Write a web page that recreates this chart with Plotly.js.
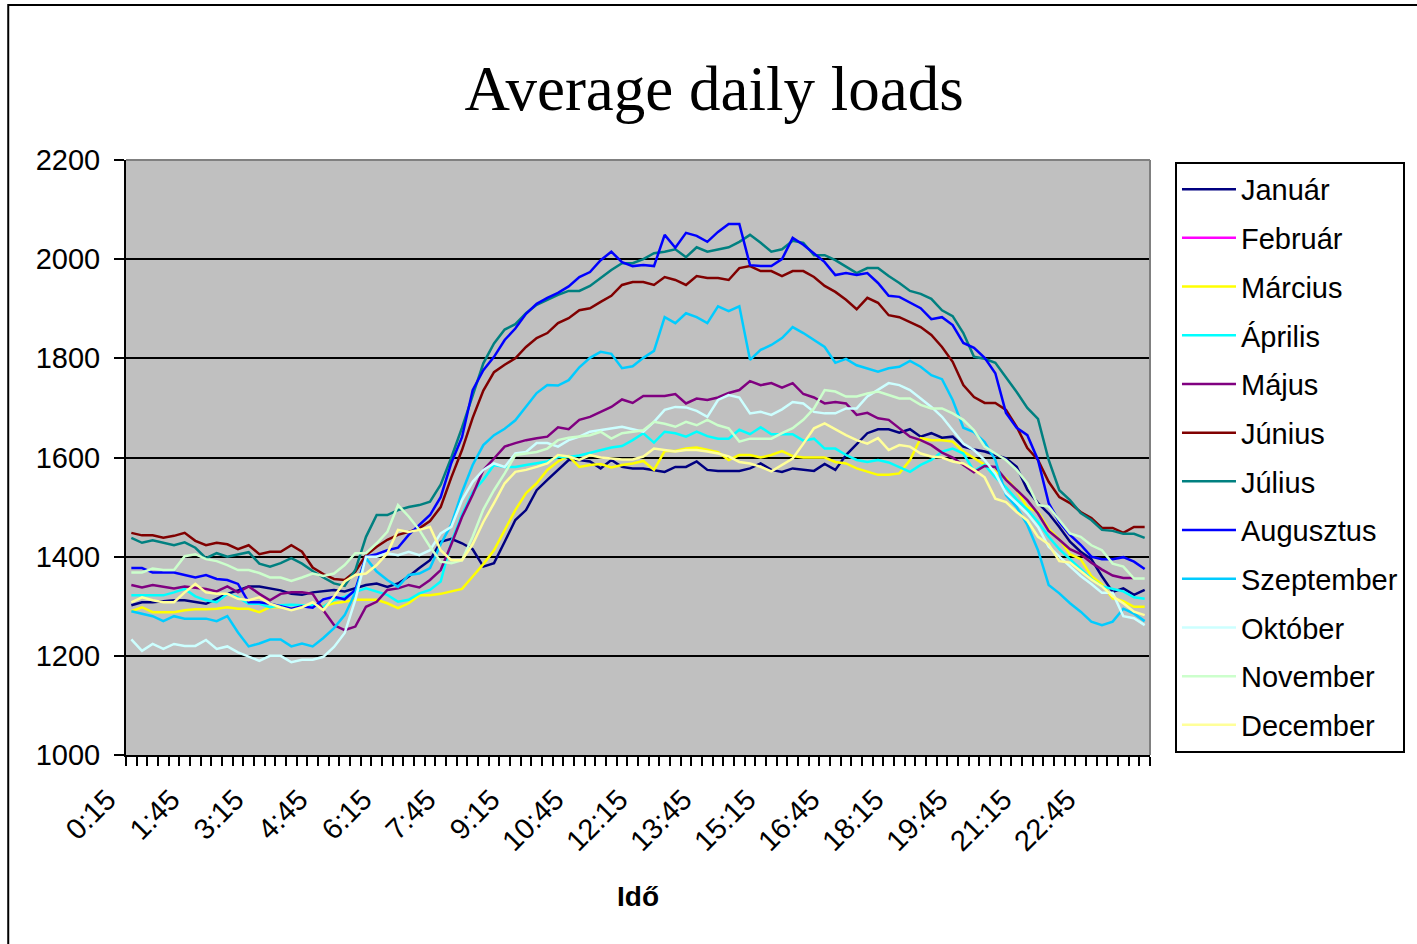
<!DOCTYPE html>
<html>
<head>
<meta charset="utf-8">
<script src="https://cdn.plot.ly/plotly-3.0.1.min.js"></script>
<style>
  html, body { margin: 0; padding: 0; background: #fff; }
  #chart { width: 1417px; height: 944px; }
</style>
</head>
<body>
<div id="chart"></div>
<script>
// 15 minute steps, 0:15 ... 24:00
const times = [];
for (let m = 15; m <= 24 * 60; m += 15) {
    const mm = m % 60;
    times.push(Math.floor(m / 60) + ":" + (mm < 10 ? "0" + mm : mm));
}

const tickLabels = ["0:15", "1:45", "3:15", "4:45", "6:15", "7:45", "9:15", "10:45",
    "12:15", "13:45", "15:15", "16:45", "18:15", "19:45", "21:15", "22:45"];

const months = ["Január", "Február", "Március", "Április", "Május", "Június",
    "Július", "Augusztus", "Szeptember", "Október", "November", "December"];

const colors = ["#000080", "#ff00ff", "#ffff00", "#00ffff", "#800080", "#800000",
    "#008080", "#0000ff", "#00ccff", "#ccffff", "#ccffcc", "#ffff99"];

const januar = [
    1302, 1308, 1308, 1310, 1312, 1312, 1308, 1305, 1315, 1325,
    1332, 1340, 1340, 1336, 1332, 1325, 1323, 1328, 1330, 1333,
    1330, 1336, 1343, 1346, 1339, 1346, 1360, 1377, 1393, 1430,
    1436, 1427, 1415, 1380, 1387, 1430, 1474, 1494, 1534, 1555,
    1575, 1595, 1595, 1592, 1578, 1595, 1581, 1578, 1578, 1575,
    1571, 1581, 1581, 1592, 1575, 1573, 1573, 1573, 1578, 1588,
    1575, 1571, 1578, 1575, 1573, 1587, 1575, 1605, 1628, 1649,
    1657, 1657, 1650, 1657, 1642, 1649, 1640, 1642, 1622, 1616,
    1612, 1605, 1598, 1581, 1535, 1508, 1487, 1460, 1430, 1410,
    1395, 1360, 1329, 1336, 1323, 1333];

// no February line is visible in the chart, only its legend entry
const februar = times.map(() => null);

const marcius = [
    1290, 1298, 1288, 1288, 1288, 1292, 1294, 1294, 1295, 1298,
    1295, 1295, 1288, 1298, 1298, 1295, 1298, 1302, 1300, 1306,
    1309, 1313, 1313, 1313, 1306, 1296, 1306, 1322, 1322, 1325,
    1330, 1335, 1360, 1385, 1413, 1454, 1494, 1528, 1548, 1575,
    1592, 1603, 1581, 1585, 1587, 1580, 1585, 1588, 1593, 1575,
    1613, 1613, 1618, 1620, 1615, 1611, 1595, 1605, 1605, 1600,
    1605, 1613, 1603, 1600, 1600, 1600, 1591, 1588, 1578, 1571,
    1565, 1565, 1568, 1595, 1639, 1635, 1635, 1632, 1612, 1599,
    1585, 1571, 1558, 1534, 1500, 1490, 1456, 1435, 1405, 1395,
    1361, 1344, 1316, 1310, 1299, 1299];

const aprilis = [
    1322, 1322, 1322, 1322, 1328, 1335, 1320, 1312, 1308, 1325,
    1318, 1305, 1305, 1298, 1302, 1303, 1302, 1302, 1299, 1313,
    1319, 1329, 1336, 1329, 1323, 1309, 1313, 1326, 1333, 1350,
    1430, 1485, 1530, 1555, 1585, 1581, 1581, 1585, 1588, 1592,
    1601, 1601, 1604, 1609, 1615, 1620, 1623, 1635, 1649, 1630,
    1652, 1649, 1642, 1652, 1643, 1638, 1638, 1656, 1647, 1661,
    1647, 1647, 1647, 1634, 1638, 1618, 1618, 1605, 1595, 1591,
    1595, 1590, 1581, 1571, 1585, 1595, 1612, 1618, 1608, 1573,
    1585, 1560, 1540, 1515, 1495, 1470, 1440, 1415, 1395, 1375,
    1355, 1340, 1335, 1330, 1318, 1315];

const majus = [
    1343, 1338, 1343, 1340, 1336, 1340, 1338, 1335, 1330, 1340,
    1328, 1340, 1325, 1312, 1325, 1328, 1328, 1325, 1292, 1262,
    1252, 1259, 1299, 1309, 1333, 1336, 1343, 1338, 1353, 1373,
    1425, 1480, 1525, 1575, 1598, 1622, 1629, 1635, 1639, 1642,
    1661, 1657, 1676, 1682, 1692, 1702, 1717, 1710, 1724, 1724,
    1724, 1728, 1709, 1719, 1716, 1721, 1730, 1736, 1754, 1746,
    1750, 1741, 1750, 1728, 1721, 1709, 1712, 1709, 1686, 1690,
    1679, 1676, 1659, 1642, 1635, 1625, 1610, 1600, 1585, 1570,
    1583, 1581, 1555, 1534, 1514, 1487, 1452, 1434, 1415, 1405,
    1388, 1374, 1362, 1357, 1357, null];

const junius = [
    1448, 1443, 1443, 1438, 1442, 1448, 1432, 1423, 1428, 1425,
    1415, 1423, 1405, 1410, 1410, 1423, 1410, 1378, 1365, 1355,
    1353, 1370, 1403, 1420, 1434, 1444, 1450, 1457, 1472, 1500,
    1560, 1615, 1680, 1735, 1772, 1787, 1800, 1823, 1841, 1851,
    1871, 1881, 1897, 1901, 1914, 1926, 1948, 1954, 1954, 1948,
    1964, 1958, 1948, 1966, 1962, 1962, 1958, 1982, 1986, 1976,
    1976, 1966, 1976, 1976, 1964, 1946, 1934, 1918, 1899, 1922,
    1912, 1887, 1883, 1873, 1863, 1847, 1823, 1793, 1746, 1722,
    1710, 1710, 1696, 1662, 1619, 1595, 1551, 1520, 1508, 1490,
    1478, 1458, 1458, 1448, 1460, 1460];

const julius = [
    1438, 1428, 1433, 1428, 1423, 1429, 1418, 1397, 1407, 1400,
    1405, 1409, 1386, 1380, 1387, 1397, 1386, 1371, 1358, 1346,
    1341, 1373, 1440, 1484, 1484, 1494, 1500, 1504, 1511, 1545,
    1600, 1660, 1725, 1790, 1830, 1858, 1869, 1891, 1908, 1918,
    1928, 1936, 1936, 1946, 1962, 1978, 1992, 1992, 2000, 2012,
    2015, 2020, 2004, 2024, 2015, 2020, 2024, 2035, 2049, 2033,
    2015, 2020, 2037, 2033, 2008, 2008, 1998, 1985, 1972, 1982,
    1982, 1966, 1952, 1936, 1930, 1920, 1897, 1885, 1851, 1803,
    1799, 1791, 1762, 1732, 1700, 1678, 1595, 1534, 1514, 1488,
    1474, 1454, 1452, 1446, 1446, 1438];

const augusztus = [
    1377, 1377, 1368, 1368, 1368, 1363, 1358, 1363, 1355, 1353,
    1345, 1308, 1308, 1305, 1300, 1295, 1300, 1297, 1314, 1319,
    1314, 1333, 1400, 1405, 1413, 1418, 1444, 1464, 1484, 1520,
    1589, 1641, 1736, 1776, 1803, 1837, 1860, 1890, 1910, 1922,
    1932, 1945, 1964, 1974, 1998, 2015, 1994, 1986, 1988, 1986,
    2049, 2023, 2053, 2047, 2035, 2055, 2071, 2071, 1988, 1986,
    1986, 2000, 2043, 2029, 2012, 1994, 1968, 1972, 1968, 1972,
    1952, 1926, 1924, 1912, 1901, 1879, 1883, 1867, 1831, 1821,
    1801, 1770, 1690, 1660, 1645, 1595, 1508, 1470, 1444, 1424,
    1400, 1395, 1395, 1399, 1390, 1375];

const szeptember = [
    1290, 1285, 1280, 1270, 1280, 1275, 1275, 1275, 1270, 1280,
    1247, 1219, 1225, 1233, 1233, 1219, 1225, 1219, 1236, 1256,
    1282, 1327, 1397, 1370, 1353, 1339, 1363, 1366, 1377, 1425,
    1465, 1530, 1585, 1625, 1645, 1658, 1675, 1702, 1730, 1746,
    1745, 1756, 1782, 1801, 1813, 1809, 1780, 1784, 1801, 1815,
    1883, 1871, 1891, 1883, 1871, 1905, 1895, 1905, 1797, 1817,
    1827, 1841, 1863, 1851, 1837, 1823, 1791, 1799, 1786, 1780,
    1773, 1780, 1783, 1795, 1783, 1766, 1758, 1716, 1660, 1651,
    1631, 1595, 1524, 1500, 1464, 1413, 1343, 1326, 1306, 1289,
    1269, 1262, 1269, 1295, 1285, 1270];

const oktober = [
    1233, 1210, 1224, 1214, 1224, 1220, 1220, 1232, 1214, 1219,
    1207, 1199, 1190, 1200, 1200, 1187, 1192, 1192, 1198, 1218,
    1246, 1313, 1400, 1400, 1407, 1403, 1410, 1403, 1413, 1447,
    1460, 1514, 1551, 1575, 1588, 1581, 1608, 1611, 1629, 1629,
    1622, 1635, 1642, 1652, 1655, 1659, 1662, 1657, 1652, 1672,
    1696, 1702, 1701, 1694, 1682, 1716, 1726, 1721, 1689, 1692,
    1686, 1697, 1712, 1709, 1692, 1689, 1689, 1699, 1699, 1723,
    1736, 1750, 1746, 1736, 1719, 1702, 1682, 1655, 1628, 1615,
    1595, 1568, 1528, 1508, 1487, 1460, 1420, 1400, 1380, 1361,
    1345, 1327, 1327, 1280, 1276, 1262];

const november = [
    1368, 1368, 1376, 1373, 1373, 1401, 1405, 1395, 1391, 1383,
    1373, 1373, 1367, 1358, 1358, 1351, 1358, 1366, 1361, 1366,
    1383, 1407, 1407, 1427, 1450, 1504, 1481, 1454, 1420, 1390,
    1387, 1393, 1440, 1495, 1534, 1568, 1605, 1608, 1611, 1618,
    1635, 1640, 1642, 1645, 1652, 1638, 1649, 1652, 1655, 1672,
    1668, 1662, 1672, 1665, 1676, 1665, 1659, 1632, 1638, 1638,
    1638, 1649, 1659, 1676, 1699, 1736, 1733, 1723, 1723, 1729,
    1733, 1726, 1719, 1719, 1706, 1699, 1699, 1689, 1676, 1655,
    1622, 1608, 1595, 1575, 1548, 1504, 1501, 1474, 1447, 1440,
    1423, 1413, 1386, 1380, 1356, 1356];

const december = [
    1308, 1318, 1312, 1308, 1308, 1328, 1345, 1328, 1325, 1325,
    1315, 1312, 1318, 1305, 1298, 1292, 1298, 1308, 1292, 1319,
    1350, 1363, 1366, 1383, 1407, 1454, 1450, 1454, 1460, 1413,
    1393, 1393, 1425, 1470, 1508, 1548, 1571, 1575, 1581, 1588,
    1605, 1602, 1595, 1605, 1600, 1598, 1596, 1596, 1602, 1618,
    1615, 1612, 1615, 1615, 1612, 1608, 1602, 1591, 1588, 1581,
    1572, 1585, 1598, 1628, 1659, 1669, 1657, 1645, 1635, 1628,
    1639, 1615, 1625, 1622, 1608, 1602, 1600, 1592, 1588, 1575,
    1560, 1517, 1510, 1490, 1473, 1440, 1425, 1391, 1388, 1371,
    1354, 1340, 1320, 1306, 1289, 1282];

const loads = [januar, februar, marcius, aprilis, majus, junius,
    julius, augusztus, szeptember, oktober, november, december];

const sans = "Liberation Sans, Arial, sans-serif";

const traces = months.map((name, k) => ({
    x: times,
    y: loads[k],
    type: "scatter",
    mode: "lines",
    name: name,
    legendgroup: name,
    line: { color: colors[k], width: 2.5 }
}));

const layout = {
    width: 1417,
    height: 944,
    paper_bgcolor: "#ffffff",
    plot_bgcolor: "#c0c0c0",
    margin: { l: 126, r: 265, t: 160, b: 189 },
    font: { family: sans, color: "#000", size: 29 },
    showlegend: true,
    title: {
        text: "Average daily loads",
        font: { family: "Liberation Serif, Times New Roman, serif", size: 63, color: "#000" },
        x: 0.504,
        xanchor: "center",
        y: 0.907,
        yanchor: "middle"
    },
    xaxis: {
        type: "category",
        range: [-0.5, 95.5],
        tickmode: "array",
        tickvals: times,
        ticktext: times.map(t => tickLabels.includes(t) ? t : ""),
        tickson: "boundaries",
        ticks: "outside",
        ticklen: 9,
        tickwidth: 2,
        tickcolor: "#000",
        tickangle: -45,
        tickfont: { size: 29 },
        ticklabelshift: -24,
        ticklabelstandoff: 14,
        showline: true,
        linecolor: "#000",
        linewidth: 2,
        showgrid: false,
        zeroline: false,
        automargin: false,
        title: { text: "<b>Idő</b>", font: { size: 28 }, standoff: 30 }
    },
    yaxis: {
        range: [1000, 2200],
        tick0: 1000,
        dtick: 200,
        ticks: "outside",
        ticklen: 10,
        tickwidth: 2,
        tickcolor: "#000",
        ticklabelstandoff: 8,
        tickfont: { size: 29 },
        showline: true,
        linecolor: "#000",
        linewidth: 2,
        gridcolor: "#000",
        gridwidth: 2,
        zeroline: false,
        automargin: false
    },
    legend: {
        x: 1.0244,
        y: 0.997,
        xanchor: "left",
        yanchor: "top",
        bgcolor: "#fff",
        bordercolor: "#000",
        borderwidth: 2,
        font: { size: 29, family: sans },
        itemwidth: 54,
        tracegroupgap: 8,
        traceorder: "grouped"
    },
    shapes: [
        // frame round the whole chart
        { type: "rect", xref: "paper", yref: "paper", x0: -0.115, x1: 1.3, y0: -0.35, y1: 1.2605,
          line: { color: "#000", width: 2 } },
        // grey top and right edges of the plot area
        { type: "line", xref: "paper", yref: "paper", x0: 1, x1: 1, y0: 0, y1: 1,
          line: { color: "#808080", width: 2 } },
        { type: "line", xref: "paper", yref: "paper", x0: 0, x1: 1, y0: 1, y1: 1,
          line: { color: "#808080", width: 2 } }
    ]
};

Plotly.newPlot("chart", traces, layout, { staticPlot: true });
</script>
</body>
</html>
